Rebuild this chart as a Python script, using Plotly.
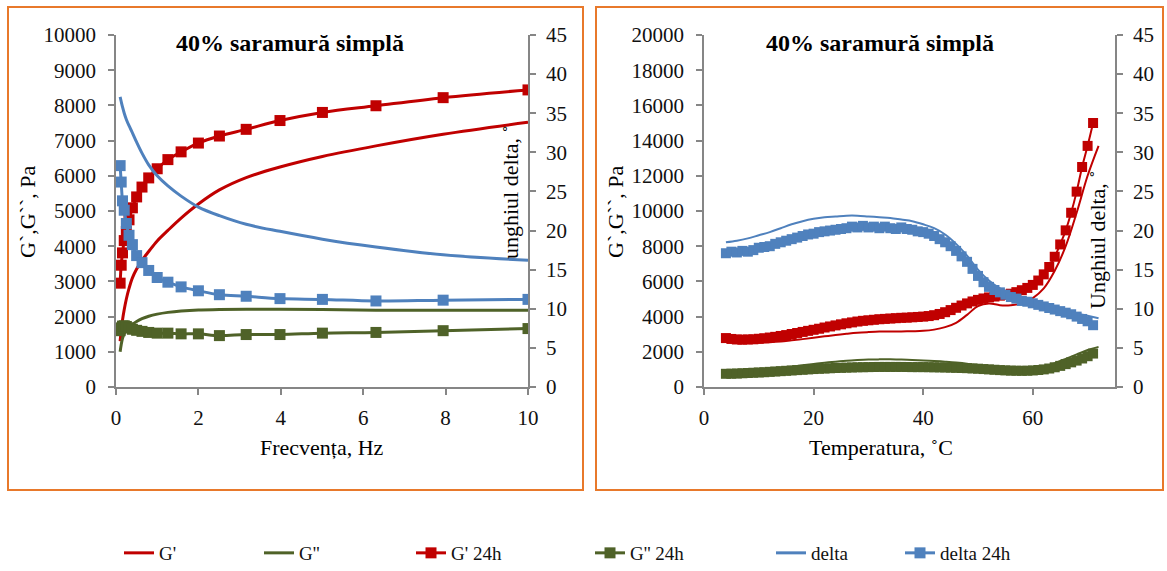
import plotly.graph_objects as go

# ---------------- Frequency sweep (left panel) ----------------
freq = [0.1, 0.126, 0.158, 0.2, 0.251, 0.316, 0.398, 0.501, 0.631, 0.794, 1.0,
        1.26, 1.58, 2.0, 2.51, 3.16, 3.98, 5.01, 6.31, 7.94, 10.0]
g1_freq = [1300, 1600, 1900, 2200, 2500, 2800, 3100, 3350, 3600, 3850, 4150,
           4450, 4800, 5200, 5600, 5950, 6250, 6550, 6850, 7180, 7520]
g2_freq = [1000, 1200, 1380, 1520, 1620, 1700, 1780, 1860, 1940, 2010, 2070,
           2120, 2160, 2190, 2200, 2210, 2210, 2200, 2180, 2180, 2180]
g1_freq_24h = [2950, 3460, 3810, 4160, 4420, 4750, 5090, 5400, 5680, 5940, 6200,
               6460, 6680, 6930, 7130, 7320, 7570, 7800, 7990, 8220, 8440]
g2_freq_24h = [1600, 1680, 1730, 1740, 1720, 1680, 1640, 1610, 1580, 1550, 1530,
               1530, 1510, 1510, 1460, 1490, 1490, 1530, 1550, 1600, 1660]
delta_freq = [37.1, 36.5, 35.8, 35.0, 34.2, 33.4, 32.5, 31.3, 29.9, 28.4, 27.0,
              25.7, 24.4, 23.0, 21.9, 20.8, 19.9, 18.9, 17.9, 16.9, 16.2]
delta_freq_24h = [28.3, 26.2, 23.8, 22.6, 20.9, 19.4, 18.2, 16.8, 15.9, 14.9, 14.0,
                  13.4, 12.8, 12.3, 11.8, 11.6, 11.3, 11.2, 11.0, 11.1, 11.2]

# ---------------- Temperature sweep (right panel) ----------------
temp = [4, 6, 8, 10, 12, 14, 16, 18, 20, 22, 24, 26, 28, 30, 32, 34, 36, 38, 40,
        42, 44, 46, 48, 50, 52, 54, 56, 58, 60, 62, 64, 66, 68, 70, 72]
g1_temp = [2600, 2500, 2500, 2520, 2540, 2580, 2650, 2720, 2800, 2880, 2950, 3020,
           3080, 3120, 3150, 3160, 3160, 3170, 3190, 3260, 3400, 3650, 4100, 4600,
           4750, 4650, 4650, 4750, 5050, 5600, 6600, 8000, 9900, 12000, 13700]
g2_temp = [800, 830, 870, 920, 980, 1060, 1150, 1230, 1310, 1380, 1440, 1490, 1530,
           1560, 1570, 1570, 1560, 1540, 1510, 1480, 1440, 1390, 1320, 1220, 1130,
           1050, 1000, 990, 1030, 1150, 1350, 1600, 1850, 2100, 2280]
delta_temp = [18.5, 18.7, 19.0, 19.4, 19.8, 20.3, 20.8, 21.2, 21.5, 21.7, 21.8, 21.9,
              21.9, 21.8, 21.7, 21.6, 21.4, 21.2, 20.8, 20.3, 19.5, 18.3, 16.8, 15.0,
              13.6, 12.6, 11.9, 11.4, 11.0, 10.6, 10.2, 9.8, 9.4, 9.1, 8.8]

temp_24h = [4, 5, 6, 7, 8, 9, 10, 11, 12, 13, 14, 15, 16, 17, 18, 19, 20, 21, 22, 23,
            24, 25, 26, 27, 28, 29, 30, 31, 32, 33, 34, 35, 36, 37, 38, 39, 40, 41,
            42, 43, 44, 45, 46, 47, 48, 49, 50, 51, 52, 53, 54, 55, 56, 57, 58, 59,
            60, 61, 62, 63, 64, 65, 66, 67, 68, 69, 70, 71]
g1_temp_24h = [2780, 2730, 2700, 2690, 2700, 2710, 2740, 2770, 2810, 2850, 2900, 2950,
               3010, 3070, 3130, 3190, 3250, 3310, 3380, 3440, 3500, 3560, 3620, 3670,
               3720, 3760, 3790, 3820, 3850, 3870, 3890, 3910, 3930, 3940, 3960, 3980,
               4000, 4030, 4080, 4150, 4250, 4370, 4500, 4630, 4750, 4860, 4950, 5030,
               5090, 5140, 5190, 5240, 5300, 5390, 5500, 5630, 5800, 6050, 6400, 6820,
               7400, 8100, 8900, 9900, 11100, 12500, 13700, 15000]
g2_temp_24h = [750, 755, 765, 780, 795, 810, 825, 840, 860, 880, 900, 920, 940, 960,
               980, 1000, 1020, 1035, 1050, 1065, 1080, 1090, 1100, 1110, 1120, 1125,
               1130, 1135, 1140, 1140, 1140, 1140, 1140, 1135, 1130, 1130, 1130, 1125,
               1120, 1115, 1110, 1100, 1090, 1080, 1070, 1055, 1040, 1020, 1000, 980,
               960, 945, 930, 925, 920, 925, 940, 965, 1000, 1050, 1120, 1200, 1300,
               1400, 1500, 1620, 1750, 1900]
delta_temp_24h = [17.1, 17.3, 17.2, 17.4, 17.3, 17.5, 17.8, 17.9, 18.0, 18.3, 18.5,
                  18.7, 18.9, 19.1, 19.3, 19.5, 19.6, 19.8, 19.9, 20.0, 20.1, 20.2,
                  20.3, 20.5, 20.4, 20.6, 20.4, 20.5, 20.3, 20.5, 20.3, 20.2, 20.4,
                  20.2, 20.1, 19.9, 19.8, 19.6, 19.3, 18.9, 18.5, 18.0, 17.4, 16.7,
                  16.0, 15.1, 14.2, 13.4, 12.8, 12.4, 12.1, 11.8, 11.5, 11.3, 11.0,
                  10.9, 10.7, 10.5, 10.3, 10.1, 9.9, 9.7, 9.5, 9.3, 9.0, 8.7, 8.4, 7.9]

series_names = ["G'", "G''", "G' 24h", "G'' 24h", "delta", "delta 24h"]

RED = "#C00000"
GREEN = "#4F6228"
BLUE = "#4F81BD"
AXIS = "#868686"
FRAME = "#E8792B"
SERIF = "'Liberation Serif', 'Times New Roman', 'DejaVu Serif', serif"

W, H = 1167, 571


def px(x):
    return x / W


def py(y):
    return 1 - y / H


fig = go.Figure()

legend_ids = ["legend", "legend2", "legend3", "legend4", "legend5", "legend6"]


def line_trace(x, y, color, name, xa, ya, legend, show, width=3, shape="spline"):
    return go.Scatter(x=x, y=y, mode="lines", name=name, xaxis=xa, yaxis=ya,
                      line=dict(color=color, width=width, shape=shape),
                      showlegend=show, legend=legend)


def marker_trace(x, y, color, name, xa, ya, legend, show, size=10, width=3):
    return go.Scatter(x=x, y=y, mode="lines+markers", name=name, xaxis=xa, yaxis=ya,
                      line=dict(color=color, width=width, shape="spline"),
                      marker=dict(symbol="square", size=size, color=color),
                      showlegend=show, legend=legend)


# left panel
fig.add_trace(line_trace(freq, g1_freq, RED, series_names[0], "x", "y", legend_ids[0], True))
fig.add_trace(line_trace(freq, g2_freq, GREEN, series_names[1], "x", "y", legend_ids[1], True))
fig.add_trace(marker_trace(freq, g1_freq_24h, RED, series_names[2], "x", "y", legend_ids[2], True, size=11))
fig.add_trace(marker_trace(freq, g2_freq_24h, GREEN, series_names[3], "x", "y", legend_ids[3], True, size=11))
fig.add_trace(line_trace(freq, delta_freq, BLUE, series_names[4], "x", "y2", legend_ids[4], True))
fig.add_trace(marker_trace(freq, delta_freq_24h, BLUE, series_names[5], "x", "y2", legend_ids[5], True, size=11))

# right panel
fig.add_trace(line_trace(temp, g1_temp, RED, series_names[0], "x2", "y3", None, False, width=2))
fig.add_trace(line_trace(temp, g2_temp, GREEN, series_names[1], "x2", "y3", None, False, width=2))
fig.add_trace(marker_trace(temp_24h, g1_temp_24h, RED, series_names[2], "x2", "y3", None, False, size=10, width=2))
fig.add_trace(marker_trace(temp_24h, g2_temp_24h, GREEN, series_names[3], "x2", "y3", None, False, size=10, width=2))
fig.add_trace(line_trace(temp, delta_temp, BLUE, series_names[4], "x2", "y4", None, False, width=2))
fig.add_trace(marker_trace(temp_24h, delta_temp_24h, BLUE, series_names[5], "x2", "y4", None, False, size=10, width=2))

tickfont = dict(family=SERIF, size=21, color="#111")
common = dict(showline=True, linecolor=AXIS, linewidth=1.5, ticks="outside",
              ticklen=6, tickcolor=AXIS, tickwidth=1.5, showgrid=False,
              zeroline=False, tickfont=tickfont, fixedrange=True,
              tickformat="d", automargin=False)

ydom = [py(387), py(35)]
fig.update_layout(
    xaxis=dict(domain=[px(116), px(528)], range=[0, 10], dtick=2, anchor="y",
               ticklabelstandoff=5, **common),
    yaxis=dict(domain=ydom, range=[0, 10000], dtick=1000, anchor="x",
               ticklabelstandoff=8, **common),
    yaxis2=dict(range=[0, 45], dtick=5, overlaying="y", side="right", anchor="x",
                ticklabelstandoff=6, **common),
    xaxis2=dict(domain=[px(704), px(1115)], range=[0, 75], tickvals=[0, 20, 40, 60],
                anchor="y3", ticklabelstandoff=5, **common),
    yaxis3=dict(domain=ydom, range=[0, 20000], dtick=2000, anchor="x2",
                ticklabelstandoff=8, **common),
    yaxis4=dict(range=[0, 45], dtick=5, overlaying="y3", side="right", anchor="x2",
                ticklabelstandoff=6, **common),
)

# one legend box per series, laid out in a row under both panels
legend_text_x = [163, 303, 455, 634, 815, 944]
for lid, tx in zip(legend_ids, legend_text_x):
    fig.update_layout(**{lid: dict(
        x=px(tx - 44), y=py(553), xanchor="left", yanchor="middle",
        orientation="h", bgcolor="rgba(0,0,0,0)", borderwidth=0,
        font=dict(family=SERIF, size=19, color="#111"), itemwidth=30,
    )})

title_font = dict(family=SERIF, size=24, color="#000")
label_font = dict(family=SERIF, size=22, color="#000")
annotations = [
    dict(x=px(290), y=py(43), text="<b>40% saramură simplă</b>", font=title_font),
    dict(x=px(880), y=py(43), text="<b>40% saramură simplă</b>", font=title_font),
    dict(x=px(322), y=py(447), text="Frecvența, Hz", font=label_font),
    dict(x=px(881), y=py(447), text="Temperatura, ˚C", font=label_font),
    dict(x=px(27), y=py(212), text="G`,G``, Pa", font=label_font, textangle=-90),
    dict(x=px(615), y=py(212), text="G`,G``, Pa", font=label_font, textangle=-90),
    dict(x=px(510), y=py(192), text="unghiul delta, ˚", font=label_font, textangle=-90),
    dict(x=px(1097), y=py(240), text="Unghiul delta, ˚", font=label_font, textangle=-90),
]
for a in annotations:
    a.update(xref="paper", yref="paper", showarrow=False, xanchor="center", yanchor="middle")

shapes = [
    dict(type="rect", xref="paper", yref="paper", x0=px(8), x1=px(583), y0=py(490), y1=py(7),
         line=dict(color=FRAME, width=2)),
    dict(type="rect", xref="paper", yref="paper", x0=px(596), x1=px(1163), y0=py(490), y1=py(7),
         line=dict(color=FRAME, width=2)),
]

fig.update_layout(
    width=W, height=H, margin=dict(l=0, r=0, t=0, b=0, autoexpand=False),
    paper_bgcolor="white", plot_bgcolor="white",
    annotations=annotations, shapes=shapes,
    font=dict(family=SERIF),
)

fig.write_html("out.html", config={"displayModeBar": False})
